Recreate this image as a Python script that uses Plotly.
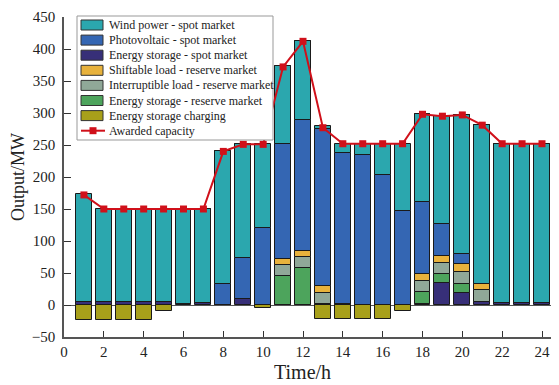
import plotly.graph_objects as go

hours = list(range(1, 25))
wind = [169, 146, 146, 146, 146, 148, 147, 207, 177, 131, 122, 123, 4, 14, 17.5, 48.5, 104.5, 137, 169, 218, 248, 249, 249, 249]
pv = [0, 0, 0, 0, 0, 0, 0, 33, 65, 120, 179, 204, 246, 235.5, 234, 203, 147, 113, 49, 15.5, 0, 0, 0, 0]
es_spot = [4, 4, 4, 4, 4, 2, 3, 0, 9, 0, 0, 0, 0, 2, 0, 0, 0, 1.5, 34, 18, 4, 3, 3, 3]
shiftable = [0, 0, 0, 0, 0, 0, 0, 0, 0, 0, 10, 9.5, 10, 0, 0, 0, 0, 10, 11, 11.5, 9, 0, 0, 0]
interruptible = [0, 0, 0, 0, 0, 0, 0, 0, 0, 0, 17, 17.5, 18, 0, 0, 0, 0, 18, 18, 19, 19, 0, 0, 0]
es_reserve = [0, 0, 0, 0, 0, 0, 0, 0, 0, 0, 45, 58, 1, 0, 0, 0, 0, 18.5, 14, 15, 1, 0, 0, 0]
es_charging = [-23, -23, -23, -23, -9, 0, 0, 0, 0, -5, 0, 0, -22, -22, -22, -22, -9, 0, 0, 0, 0, 0, 0, 0]
awarded = [172, 150, 150, 150, 150, 150, 150, 240, 251, 251, 372, 412, 277, 252, 252, 252, 252, 298, 295, 297, 281, 252, 252, 252]

legend_keys = ["wind", "pv", "es_spot", "shift", "intr", "es_res", "chg", "award"]
names = {
    "wind": "Wind power - spot market",
    "pv": "Photovoltaic - spot market",
    "es_spot": "Energy storage - spot market",
    "shift": "Shiftable load - reserve market",
    "intr": "Interruptible load - reserve market",
    "es_res": "Energy storage - reserve market",
    "chg": "Energy storage charging",
    "award": "Awarded capacity",
}
colors = {
    "wind": "#2ba7ae", "pv": "#3466b3", "es_spot": "#372f78", "shift": "#e8b23c",
    "intr": "#90a898", "es_res": "#4da45c", "chg": "#a8a01a", "award": "#d0101a",
}

FONT = "Liberation Serif, Times New Roman, serif"
OFF = 8  # page body margin
W, H = 543, 377
L, R, T, B = 56, 0, 9, 48
PW, PH = W - L - R, H - T - B

def px(x):
    return (x - OFF - L) / PW

def py(y):
    return (H - B - (y - OFF)) / PH

fig = go.Figure()
stack = [
    ("es_spot", es_spot), ("es_res", es_reserve), ("intr", interruptible),
    ("shift", shiftable), ("pv", pv), ("wind", wind), ("chg", es_charging),
]
for key, vals in stack:
    fig.add_trace(go.Bar(
        x=hours, y=vals, name=names[key], width=0.8, showlegend=False,
        marker=dict(color=colors[key], line=dict(color="#1a1a1a", width=1)),
    ))
fig.add_trace(go.Scatter(
    x=hours, y=awarded, name=names["award"], mode="lines+markers", showlegend=False,
    line=dict(color=colors["award"], width=2),
    marker=dict(symbol="square", size=7, color=colors["award"]),
))

# compact legend drawn as layout decoration
shapes = [dict(type="rect", xref="paper", yref="paper",
               x0=px(77), x1=px(273), y0=py(140), y1=py(16),
               fillcolor="white", line=dict(color="#999", width=1), layer="above")]
annotations = []
for i, key in enumerate(legend_keys):
    yc = 25 + i * 15.1
    if key == "award":
        shapes.append(dict(type="line", xref="paper", yref="paper",
                           x0=px(81), x1=px(105), y0=py(yc), y1=py(yc),
                           line=dict(color=colors[key], width=2), layer="above"))
        shapes.append(dict(type="rect", xref="paper", yref="paper",
                           x0=px(89.5), x1=px(96.5), y0=py(yc + 3.5), y1=py(yc - 3.5),
                           fillcolor=colors[key], line=dict(width=0), layer="above"))
    else:
        shapes.append(dict(type="rect", xref="paper", yref="paper",
                           x0=px(81), x1=px(103), y0=py(yc + 5), y1=py(yc - 5),
                           fillcolor=colors[key], line=dict(color="#333", width=1), layer="above"))
    annotations.append(dict(xref="paper", yref="paper", x=px(107), y=py(yc),
                            xanchor="left", yanchor="middle", showarrow=False,
                            text=names[key], font=dict(family=FONT, size=12, color="#222")))

# x axis title
annotations.append(dict(xref="paper", yref="paper", x=px(302.5), y=py(372),
                        xanchor="center", yanchor="middle", showarrow=False,
                        text="Time/h", font=dict(family=FONT, size=20, color="#222")))

fig.update_layout(
    barmode="relative", bargap=0,
    width=W, height=H,
    margin=dict(l=L, r=R, t=T, b=B),
    plot_bgcolor="white", paper_bgcolor="white",
    font=dict(family=FONT, size=15, color="#222"),
    showlegend=False,
    shapes=shapes, annotations=annotations,
)
fig.update_xaxes(
    range=[0, 24 + 9 / 19.92], tickvals=list(range(0, 25, 2)), ticks="inside", ticklen=6,
    tickcolor="#333", showline=True, linecolor="#555", linewidth=1.5, showgrid=False,
    zeroline=False, automargin=False, ticklabelstandoff=0,
)
fig.update_yaxes(
    range=[-50, 450], tickvals=list(range(-50, 451, 50)), ticks="inside", ticklen=7,
    tickcolor="#333", showline=True, linecolor="#555", linewidth=1.5, showgrid=False,
    zeroline=True, zerolinecolor="#555", zerolinewidth=1, automargin=False,
    ticklabelstandoff=4,
    title=dict(text="Output/MW", font=dict(size=18, family=FONT), standoff=4),
)
fig.write_html("out.html")
